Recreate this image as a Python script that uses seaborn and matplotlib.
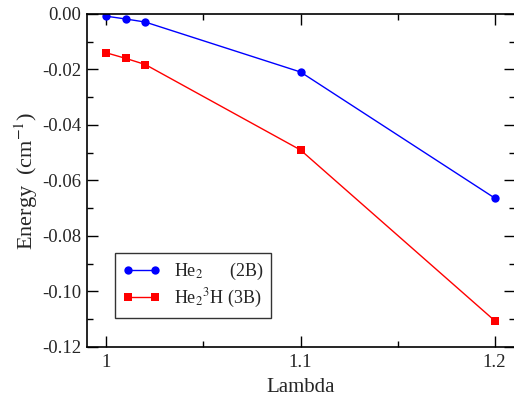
import matplotlib
matplotlib.use("Agg")
import matplotlib.pyplot as plt
import seaborn as sns
import pandas as pd
from matplotlib.ticker import MultipleLocator, FormatStrFormatter

lam = [1.0, 1.01, 1.02, 1.1, 1.2]
he2 = [-0.0008, -0.0018, -0.0029, -0.0209, -0.0663]
he2h = [-0.0140, -0.0160, -0.0182, -0.0490, -0.1105]
labels = ["He$_2$      (2B)", "He$_2$$^3$H (3B)"]

df = pd.DataFrame({
    "Lambda": lam + lam,
    "Energy": he2 + he2h,
    "series": [labels[0]] * len(lam) + [labels[1]] * len(lam),
})

sns.set_style("ticks")
plt.rcParams["font.family"] = ["Liberation Serif", "DejaVu Serif"]
plt.rcParams["mathtext.fontset"] = "stix"

fig = plt.figure(figsize=(5.14, 3.98), dpi=100)
ax = fig.add_axes([87 / 514, 51 / 398, 428 / 514, 333 / 398])

sns.lineplot(data=df, x="Lambda", y="Energy", hue="series", style="series",
             palette=["#0000ff", "#ff0000"], markers=["o", "s"], dashes=False,
             markersize=6, markeredgewidth=0, linewidth=1, ax=ax, legend=True)

ax.set_xlim(0.99, 1.2105)
ax.set_ylim(-0.12, 0.0)
ax.xaxis.set_major_locator(MultipleLocator(0.1))
ax.xaxis.set_minor_locator(MultipleLocator(0.05))
ax.yaxis.set_major_locator(MultipleLocator(0.02))
ax.yaxis.set_minor_locator(MultipleLocator(0.01))
ax.xaxis.set_major_formatter(FormatStrFormatter("%g"))
ax.yaxis.set_major_formatter(FormatStrFormatter("%.2f"))
ax.tick_params(which="both", direction="in", top=True, right=True, labelsize=13.5, width=1, color="black")
ax.tick_params(axis="y", which="major", length=8, pad=4)
ax.tick_params(axis="x", which="major", length=8, pad=5)
ax.tick_params(which="minor", length=4)
for s in ax.spines.values():
    s.set_linewidth(1.2)
    s.set_color("black")

ax.set_xlabel("Lambda", fontsize=15, labelpad=5)
ax.set_ylabel("Energy  (cm$^{-1}$)", fontsize=16, labelpad=2)

leg = ax.legend(loc="lower left", bbox_to_anchor=(0.065, 0.087), borderaxespad=0,
                fontsize=13, frameon=True, fancybox=False, edgecolor="black",
                numpoints=2, handlelength=2.1, handletextpad=0.7,
                borderpad=0.45, labelspacing=0.25)
leg.get_frame().set_linewidth(1)
for h in leg.legend_handles:
    h.set_markersize(6)

fig.savefig("out.png", dpi=100)
